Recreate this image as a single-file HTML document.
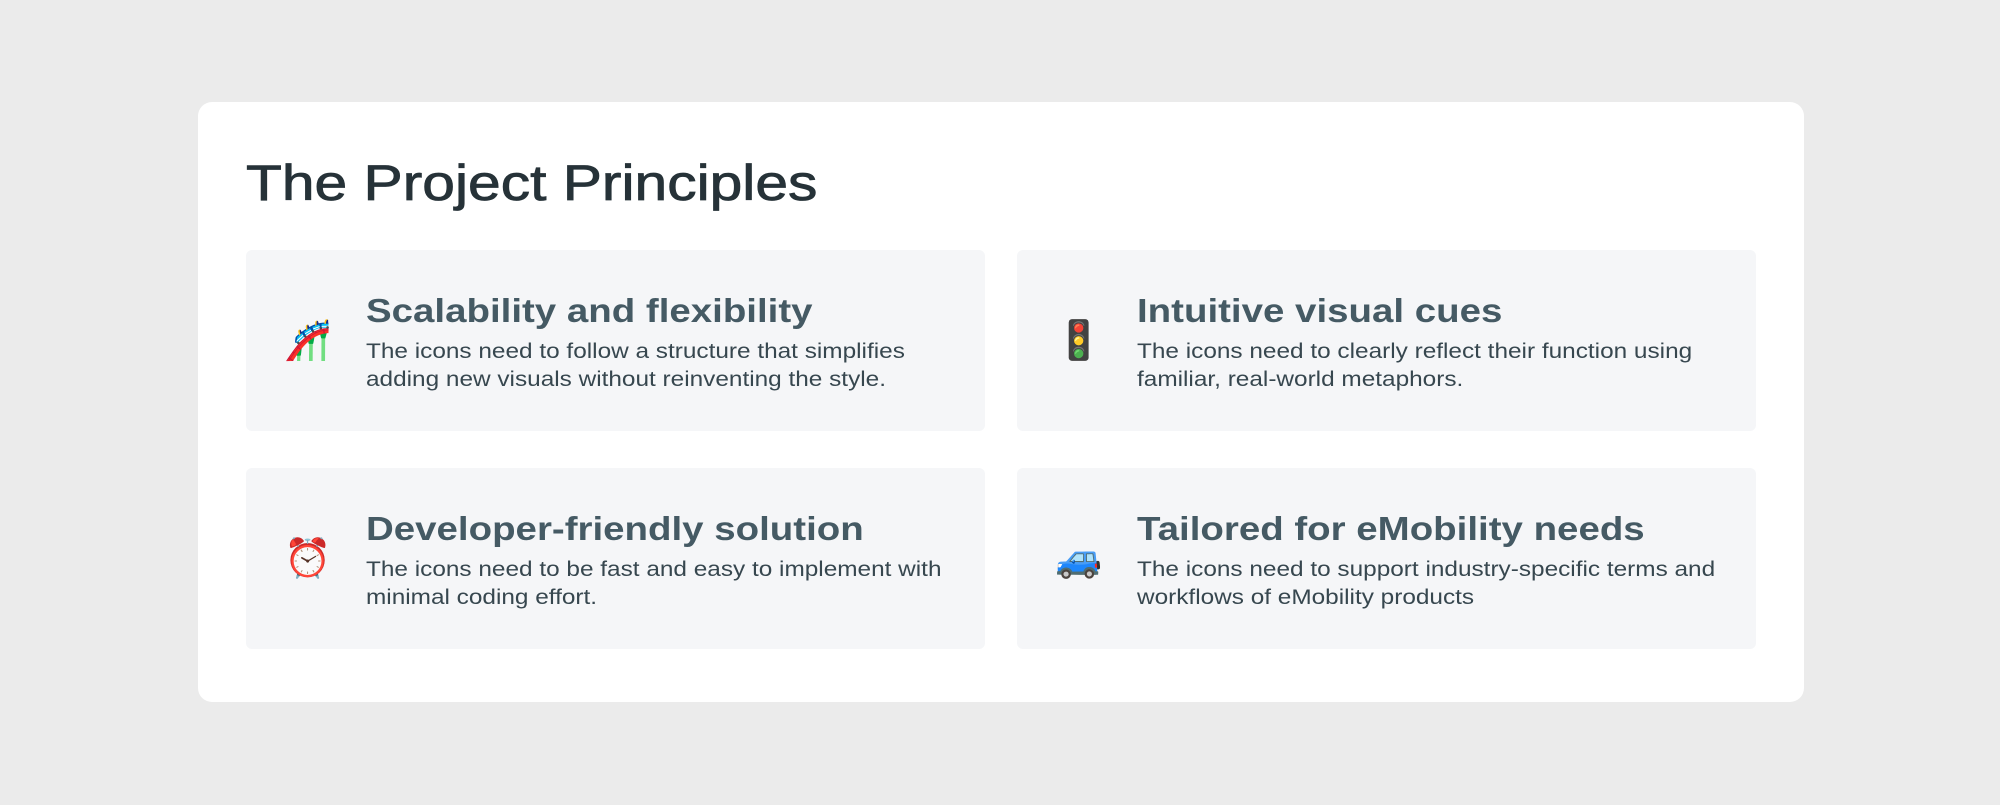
<!DOCTYPE html>
<html><head><meta charset="utf-8"><style>
body{margin:0;width:2000px;height:805px;background:#ebebeb;font-family:"Liberation Sans",sans-serif;position:relative;overflow:hidden}
.card{position:absolute;left:198px;top:102px;width:1606px;height:600px;background:#fff;border-radius:14px}
h1{position:absolute;left:246px;top:151px;margin:0;font-size:50px;font-weight:normal;color:#263238;line-height:64px;-webkit-text-stroke:0.8px #263238;transform:scaleX(1.175);transform-origin:left center;white-space:nowrap}
.b{position:absolute;width:739px;height:181px;background:#f5f6f8;border-radius:6px}
.i{position:absolute;left:38px;top:66px;font-size:38px;line-height:50px;font-family:"Noto Color Emoji","DejaVu Sans",sans-serif}
.t{position:absolute;left:120px;top:41px;font-size:33px;font-weight:bold;color:#455a64;line-height:40px;transform:scaleX(1.165);transform-origin:left center;white-space:nowrap}
.d{position:absolute;left:120px;top:88px;font-size:21px;color:#37474f;line-height:28px;width:600px;transform:scaleX(1.16);transform-origin:left center;white-space:nowrap}
</style></head><body>
<div class="card"></div>
<h1>The Project Principles</h1>
<div class="b" style="left:246px;top:250px"><div class="i">🎢</div><div class="t">Scalability and flexibility</div><div class="d">The icons need to follow a structure that simplifies<br>adding new visuals without reinventing the style.</div></div>
<div class="b" style="left:1017px;top:250px"><div class="i">🚦</div><div class="t">Intuitive visual cues</div><div class="d">The icons need to clearly reflect their function using<br>familiar, real-world metaphors.</div></div>
<div class="b" style="left:246px;top:468px"><div class="i">⏰</div><div class="t">Developer-friendly solution</div><div class="d">The icons need to be fast and easy to implement with<br>minimal coding effort.</div></div>
<div class="b" style="left:1017px;top:468px"><div class="i">🚙</div><div class="t">Tailored for eMobility needs</div><div class="d">The icons need to support industry-specific terms and<br>workflows of eMobility products</div></div>
</body></html>
